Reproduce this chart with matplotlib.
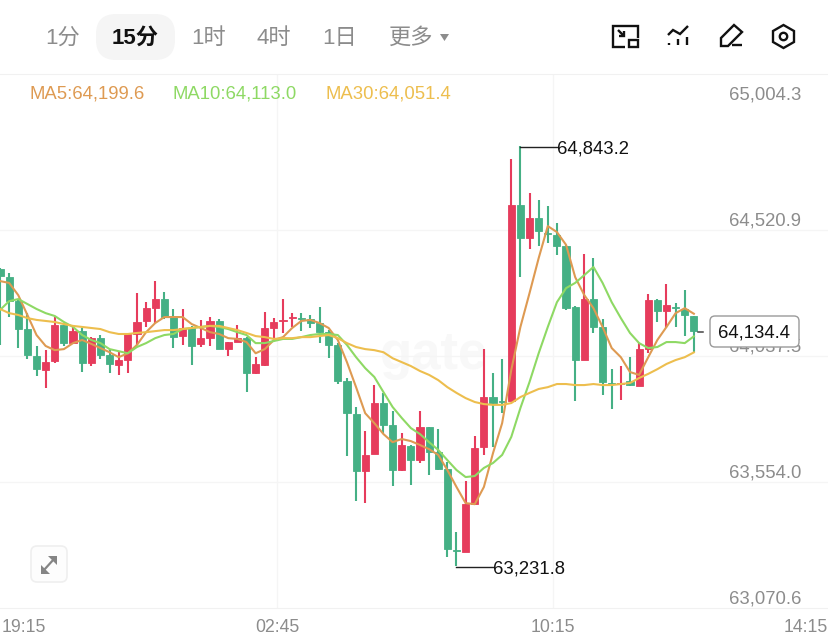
import matplotlib
matplotlib.use("Agg")
import matplotlib.pyplot as plt
from matplotlib.patches import FancyBboxPatch, Circle, Rectangle, Polygon
from matplotlib.transforms import ScaledTranslation
import numpy as np

plt.rcParams['font.family'] = ['Liberation Sans', 'Noto Sans CJK SC', 'DejaVu Sans']

opens = [64371,64340,64248,64141,64037,63984,64018,64157,64087,64133,64010,64106,64041,64003,64022,64122,64172,64221,64256,64191,
         64114,64145,64084,64106,64172,64064,64091,64106,63972,64003,64145,64172,64183,64183,64179,64164,64129,64080,63941,63815,
         63596,63662,63857,63773,63600,63692,63638,63765,63669,63604,63293,63285,63469,63688,63880,63865,63865,64617,64491,64567,
         64510,64502,64460,64225,64022,64256,64149,63934,63930,63941,63922,64064,64252,64210,64225,64218,64191]
closes = [64344,64248,64141,64041,63987,64014,64157,64087,64133,64010,64106,64041,64007,64022,64122,64168,64221,64256,64187,64110,
          64145,64076,64106,64172,64064,64091,64106,63972,64007,64145,64168,64176,64187,64179,64164,64129,64080,63941,63818,63596,
          63658,63857,63773,63600,63696,63638,63765,63669,63604,63297,63289,63469,63684,63880,63857,63861,64617,64491,64567,64517,
          64506,64460,64221,64022,64256,64149,63938,63930,63934,63926,64064,64252,64210,64233,64221,64195,64134.4]
highs = [64375,64355,64256,64202,64076,64060,64187,64164,64149,64145,64110,64118,64060,64052,64122,64279,64244,64325,64283,64217,
         64217,64153,64176,64187,64179,64091,64157,64110,64033,64206,64183,64256,64202,64202,64195,64225,64137,64087,63953,63842,
         63750,63926,63896,63826,63742,63696,63826,63765,63757,63630,63362,63558,63730,64064,63972,64025,64793,64843.2,64663,64636,
         64613,64548,64464,64229,64429,64413,64179,63987,63999,64033,64087,64275,64256,64314,64241,64291,64191]
lows = [64080,64187,64068,64025,63961,63914,64010,64076,64084,63976,63999,64025,63972,63965,63972,64080,64149,64164,64179,64068,
        64080,64003,64072,64076,64064,64037,64091,63899,63969,63999,64099,64126,64149,64133,64145,64087,64029,63930,63654,63481,
        63473,63662,63742,63539,63596,63543,63627,63581,63600,63266,63231.8,63285,63466,63658,63688,63818,63865,64340,64448,64460,
        64471,64425,64214,63865,64022,64126,63888,63834,63869,63922,63922,64048,64168,64145,64149,64114,64053]
ma5 = [64325,64318,64271,64195,64118,64076,64060,64064,64087,64099,64084,64068,64052,64033,64048,64080,64129,64164,64187,64187,
       64187,64160,64145,64129,64122,64106,64103,64091,64048,64064,64099,64110,64145,64172,64176,64164,64145,64099,64014,63918,
       63818,63780,63738,63707,63719,63711,63696,63680,63658,63600,63535,63473,63469,63535,63665,63780,63984,64149,64279,64413,
       64536,64513,64464,64340,64271,64221,64149,64068,64033,63976,63965,64033,64099,64149,64202,64221,64199.6]
ma10 = [64214,64248,64256,64237,64218,64202,64191,64168,64149,64118,64099,64087,64064,64056,64048,64072,64087,64106,64118,64122,
        64141,64145,64149,64153,64149,64141,64129,64118,64087,64087,64095,64103,64103,64110,64118,64122,64122,64118,64080,64033,
        63991,63957,63899,63842,63800,63761,63738,63707,63677,63638,63600,63573,63577,63608,63627,63658,63727,63838,63938,64048,
        64149,64244,64298,64318,64348,64379,64318,64244,64183,64126,64087,64068,64072,64091,64091,64087,64113.0]
ma30 = [64218,64202,64195,64183,64176,64172,64168,64160,64153,64149,64145,64141,64129,64122,64122,64126,64129,64133,64137,64137,
        64141,64145,64149,64153,64153,64145,64137,64126,64114,64110,64103,64106,64106,64110,64110,64114,64118,64106,64087,64072,
        64064,64060,64052,64029,64014,63999,63980,63965,63945,63918,63896,63876,63861,63853,63850,63850,63857,63880,63896,63911,
        63918,63930,63930,63926,63926,63930,63926,63926,63930,63934,63953,63969,63987,64007,64022,64033,64051.4]
price_ticks = [65004.3, 64520.9, 64037.5, 63554.0, 63070.6]
time_ticks = [2.63, 30.34, 60.57, 88.28]
time_labels = ['19:15', '02:45', '10:15', '14:15']
tabs = ['1分', '15分', '1时', '4时', '1日', '更多']

UP, DOWN = '#E63C5C', '#45B085'
C5, C10, C30 = '#DE9A52', '#8ED964', '#EDBE4E'
GRID, LABEL = '#F5F5F5', '#8C8C8C'
W, H = 829, 637
FS = 13.3

fig = plt.figure(figsize=(W/100, H/100), dpi=100, facecolor='white')
ax = fig.add_axes([0, (H-608)/H, 1, (608-74)/H])
ax.set_xlim(0, W/9.13)
ax.set_ylim(63070.6, 65119.6)
for s in ('left', 'right'):
    ax.spines[s].set_visible(False)
for s in ('top', 'bottom'):
    ax.spines[s].set_color('#F1F1F1')

idx = np.arange(len(opens))
o, c, hi, lo = map(np.array, (opens, closes, highs, lows))
cols = [UP if b >= a else DOWN for a, b in zip(o, c)]
ax.vlines(idx, lo, hi, colors=cols, lw=1.5, zorder=3)
ax.bar(idx, np.abs(c-o), bottom=np.minimum(o, c), width=0.78, color=cols,
       edgecolor=cols, linewidth=0.6, zorder=3)
ax.plot(idx, ma5, color=C5, lw=1.5, zorder=4)
ax.plot(idx, ma10, color=C10, lw=1.5, zorder=4)
ax.plot(idx, ma30, color=C30, lw=1.5, zorder=5)

ax.set_yticks(price_ticks)
ax.set_yticklabels([f'{v:,.1f}' for v in price_ticks])
ax.yaxis.tick_right()
ax.tick_params(axis='y', length=0, labelsize=FS, labelcolor=LABEL, pad=-20)
shift = ScaledTranslation(0, 1/100, fig.dpi_scale_trans)
for lab in ax.get_yticklabels():
    lab.set_ha('right')
    lab.set_va('bottom')
    lab.set_transform(lab.get_transform() + shift)
ax.set_xticks(time_ticks)
ax.set_xticklabels(time_labels)
ax.tick_params(axis='x', length=0, labelsize=12.7, labelcolor=LABEL, pad=8)
ax.grid(True, color=GRID, lw=1, zorder=0)
xg = ax.get_xgridlines()
xg[0].set_visible(False)
xg[3].set_visible(False)
yg = ax.get_ygridlines()
yg[0].set_visible(False)
yg[4].set_visible(False)

ax.text(47.5, 64041, 'gate', fontsize=38, fontweight='bold', color='#F8F8F8',
        ha='center', va='center', zorder=1)

# extreme annotations
hi_i, lo_i = int(np.argmax(hi)), int(np.argmin(lo))
ax.plot([hi_i, hi_i+4], [hi[hi_i]-3]*2, color='#222222', lw=1, zorder=6)
ax.plot([lo_i, lo_i+4], [lo[lo_i]-3]*2, color='#222222', lw=1, zorder=6)
ax.text(hi_i+4.05, hi[hi_i]-10, f'{hi[hi_i]:,.1f}', fontsize=FS, color='#111111', va='center', ha='left')
ax.text(lo_i+4.0, lo[lo_i]-10, f'{lo[lo_i]:,.1f}', fontsize=FS, color='#111111', va='center', ha='left')

# overlay in pixel units for UI chrome
ui = fig.add_axes([0, 0, 1, 1], facecolor='none')
ui.set_xlim(0, W)
ui.set_ylim(H, 0)
ui.axis('off')

ui.text(30, 94, f'MA5:{ma5[-1]:,.1f}', color=C5, fontsize=FS, va='center')
ui.text(173, 94, f'MA10:{ma10[-1]:,.1f}', color=C10, fontsize=FS, va='center')
ui.text(326, 94, f'MA30:{ma30[-1]:,.1f}', color=C30, fontsize=FS, va='center')

ui.add_patch(FancyBboxPatch((96, 14), 79, 46, boxstyle='round,pad=0,rounding_size=20', fc='#F5F5F5', ec='none', zorder=1))
tab_x = [62.5, 135.5, 208.5, 273.5, 339.5, 411]
for t, x in zip(tabs, tab_x):
    sel = t == '15分'
    ui.text(x, 38.5, t, ha='center', va='center', fontsize=16, color='#111111' if sel else LABEL,
            fontweight='bold' if sel else 'normal', zorder=2)
ui.add_patch(Polygon([(440, 34), (449, 34), (444.5, 41)], closed=True, fc=LABEL, ec='none'))

# toolbar icons
K = dict(color='#111111', lw=1.7, solid_capstyle='butt', solid_joinstyle='miter')
ui.plot([625, 613.5, 613.5, 638, 638], [47, 47, 26, 26, 38], **K)
ui.add_patch(Rectangle((629, 40), 9, 7, fc='none', ec='#111111', lw=1.7))
ui.plot([618, 624], [30, 36], **K)
ui.plot([619, 624.5, 624.5], [36, 36, 31], **K)
ui.plot([668, 673, 680, 688], [35, 30, 34, 26], **K)
for x0, y0 in [(669, 43), (678, 39), (687, 37)]:
    ui.plot([x0, x0], [y0, 45], **K)
ui.add_patch(Polygon([(721, 46), (721, 38), (734, 25), (742, 32), (728, 46)], closed=True,
                     fc='none', ec='#111111', lw=1.7))
ui.plot([732, 742], [45, 45], **K)
ui.add_patch(Polygon([(783.5, 25), (794, 31), (794, 42), (783.5, 48), (773, 42), (773, 31)],
                     closed=True, fc='none', ec='#111111', lw=1.7))
ui.add_patch(Circle((783.5, 36.5), 3.7, fc='none', ec='#111111', lw=1.7))

# current price tag
ui.plot([698, 703], [331.5, 331.5], color='#444444', lw=1.1)
ui.add_patch(FancyBboxPatch((710, 316), 89, 31, boxstyle='round,pad=0,rounding_size=5', fc='white', ec='#9A9A9A', lw=1, zorder=7))
ui.text(754.5, 333, f'{closes[-1]:,.1f}', ha='center', va='center', fontsize=FS, color='#111111', zorder=8)

# expand button
ui.add_patch(FancyBboxPatch((31, 546), 36, 36, boxstyle='round,pad=0,rounding_size=6', fc='#FDFDFD', ec='#EFEFEF', lw=1.2))
G = dict(color='#858585', lw=1.6, solid_capstyle='butt')
ui.plot([44, 54], [570, 559], **G)
ui.add_patch(Polygon([(41, 574), (41, 565), (50, 574)], closed=True, fc='#858585', ec='none'))
ui.add_patch(Polygon([(57, 556), (48, 556), (57, 565)], closed=True, fc='#858585', ec='none'))

fig.savefig('out.png', dpi=100)
